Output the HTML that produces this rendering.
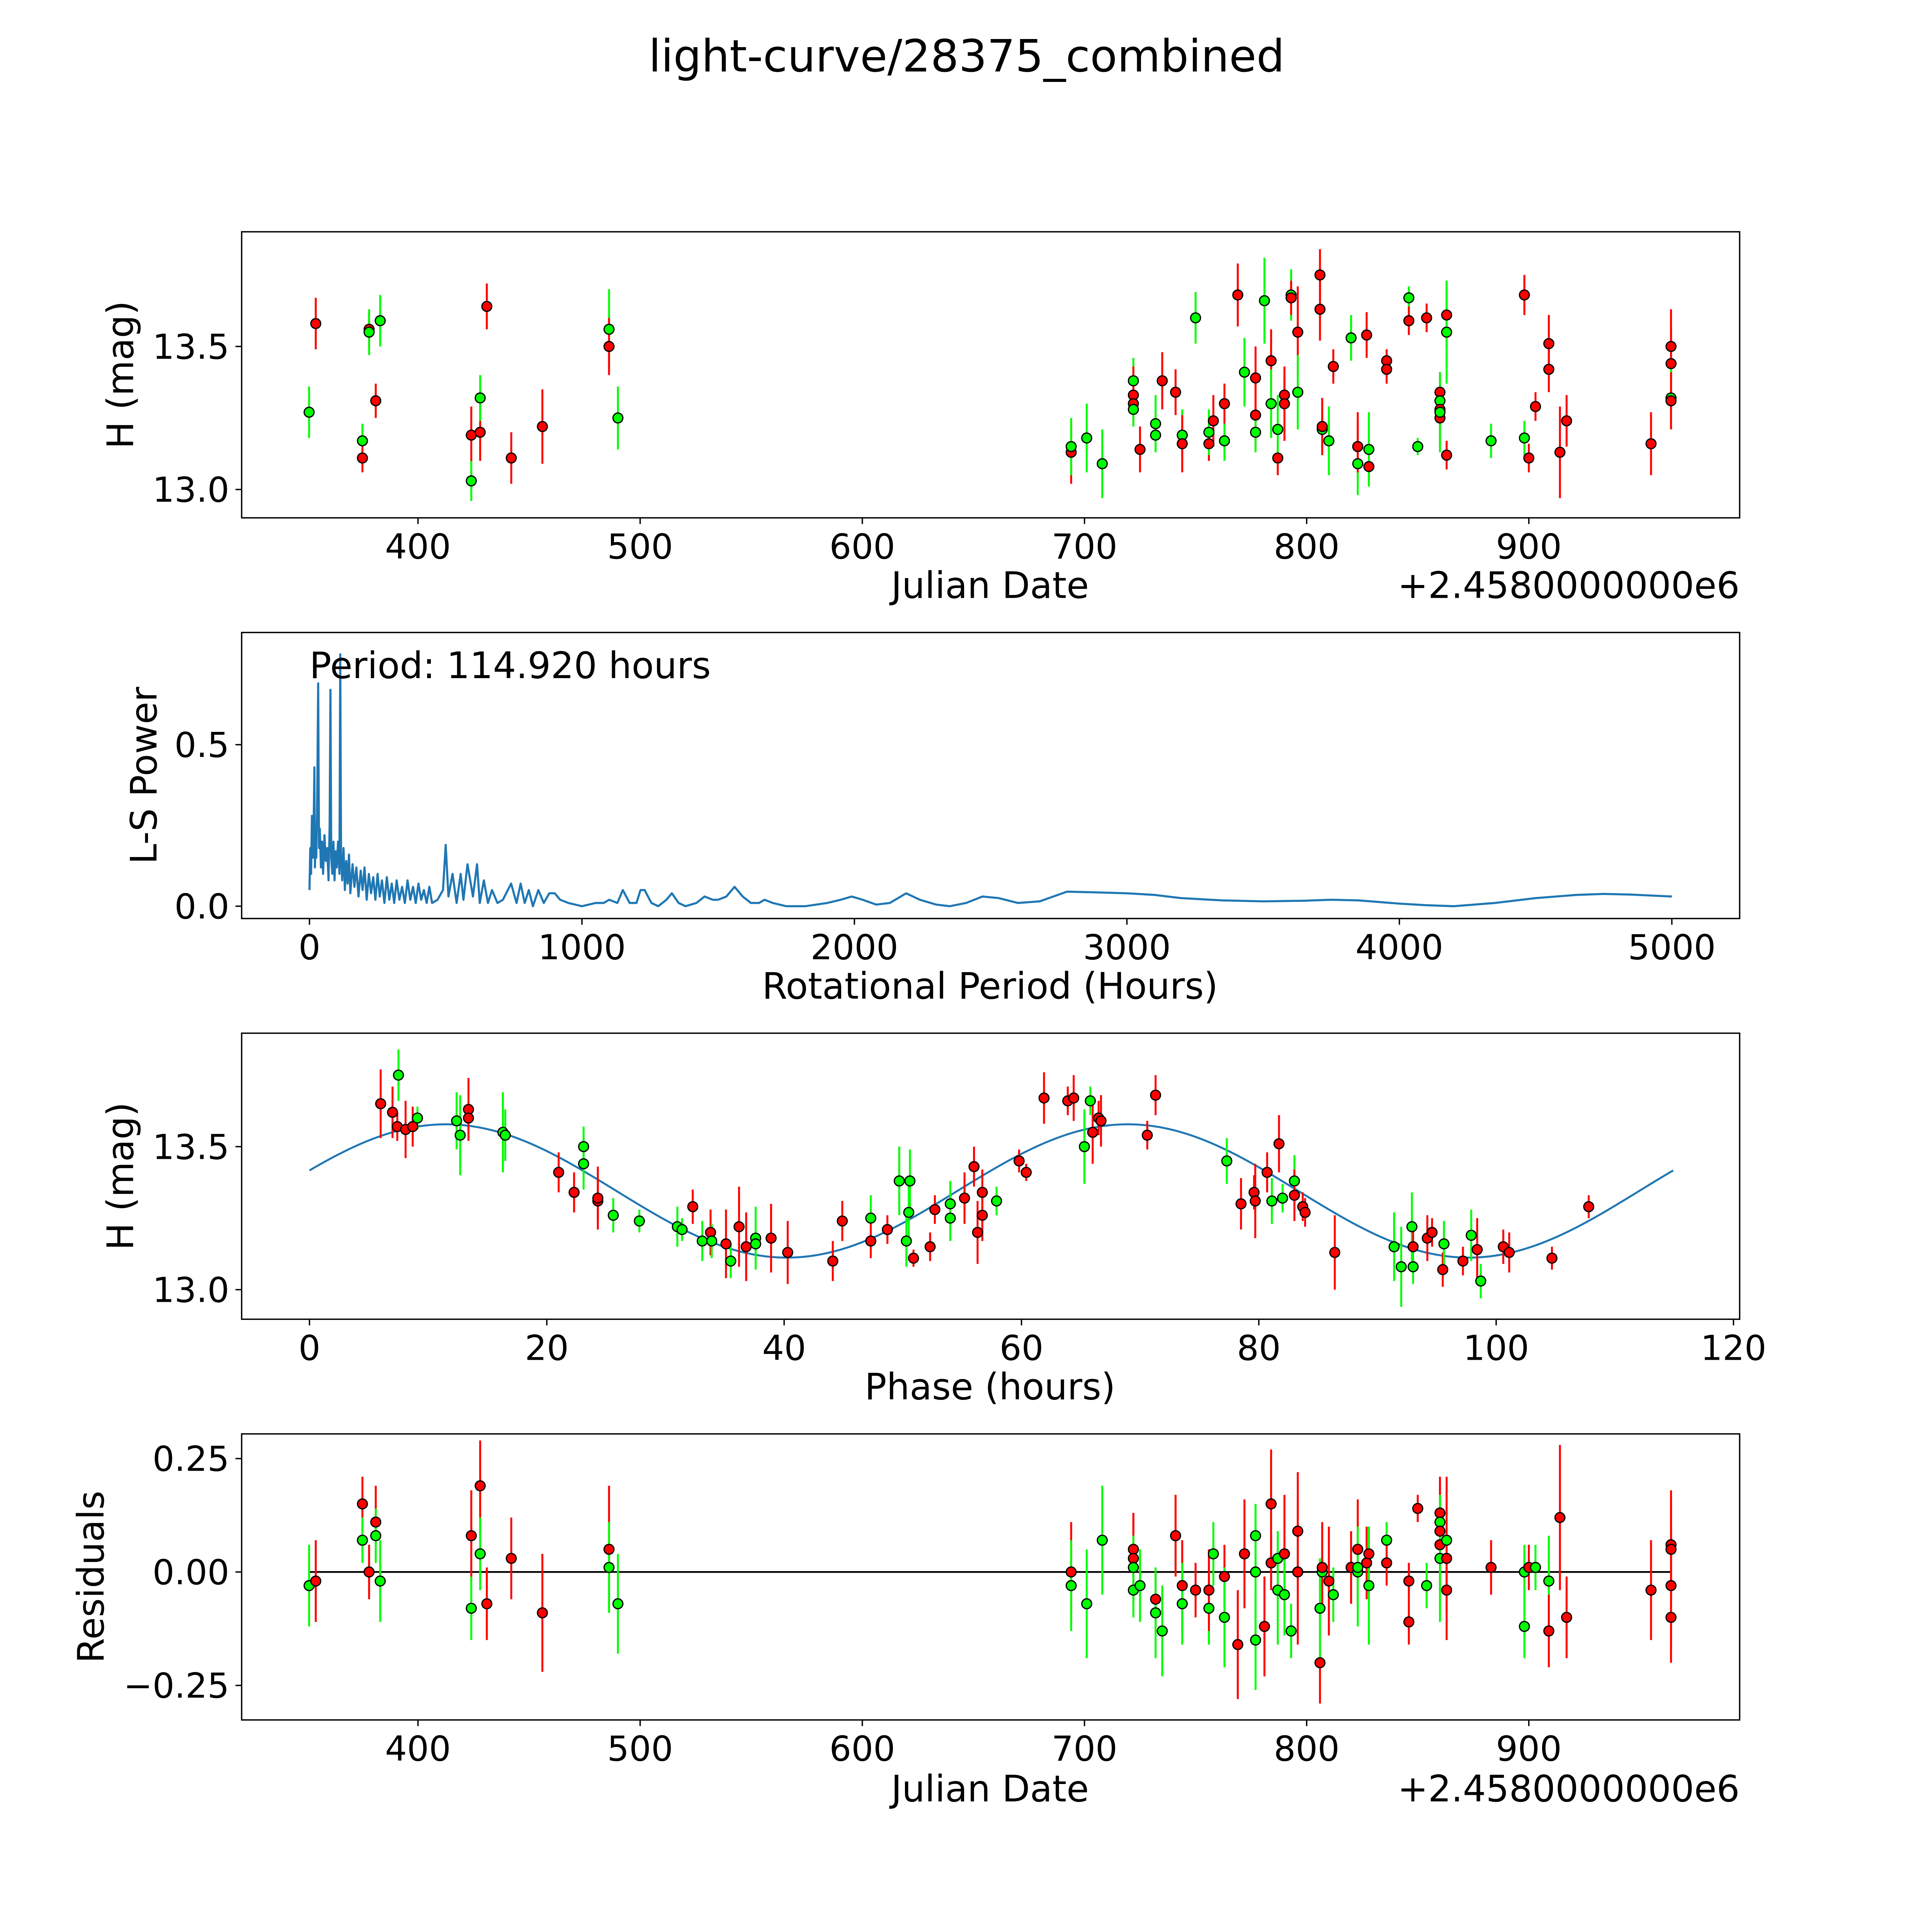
<!DOCTYPE html>
<html><head><meta charset="utf-8"><style>
html,body{margin:0;padding:0;background:#fff;overflow:hidden;width:100vw;height:100vh}
svg{display:block;width:100vw;height:100vh}
text{font-family:"DejaVu Sans","Liberation Sans",sans-serif;fill:#000}
</style></head><body>
<svg id="fig" viewBox="0 0 1567 1567" preserveAspectRatio="none" xmlns="http://www.w3.org/2000/svg">
<rect width="1567" height="1567" fill="#fff"/>
<text x="784" y="58" font-size="36" text-anchor="middle">light-curve/28375_combined</text>
</svg>
<script>
// ---- Panel 1: light curve (date offset, mag, err, color) ----
const lcDates = [351,354,375,375,378,378,381,383,424,424,428,428,431,442,456,486,486,490,
694,694,701,708,722,722,722,722,725,732,732,735,741,744,744,750,756,756,758,763,763,769,772,777,777,777,781,784,784,787,787,790,790,793,793,796,796,806,806,807,807,810,812,820,823,823,823,827,828,828,836,836,846,846,850,854,860,860,860,860,860,863,863,863,883,898,898,900,903,909,909,914,917,955,964,964,964,964];
const lcMags = [13.27,13.58,13.17,13.11,13.56,13.55,13.31,13.59,13.19,13.03,13.20,13.32,13.64,13.11,13.22,13.56,13.50,13.25,
13.13,13.15,13.18,13.09,13.38,13.33,13.30,13.28,13.14,13.19,13.23,13.38,13.34,13.19,13.16,13.60,13.16,13.20,13.24,13.17,13.30,13.68,13.41,13.26,13.20,13.39,13.66,13.45,13.30,13.11,13.21,13.33,13.30,13.68,13.67,13.55,13.34,13.75,13.63,13.21,13.22,13.17,13.43,13.53,13.15,13.09,13.15,13.54,13.08,13.14,13.45,13.42,13.67,13.59,13.15,13.60,13.34,13.31,13.28,13.25,13.27,13.61,13.55,13.12,13.17,13.18,13.68,13.11,13.29,13.51,13.42,13.13,13.24,13.16,13.50,13.44,13.32,13.31];
const lcErrs = [0.09,0.09,0.06,0.05,0.06,0.08,0.06,0.09,0.10,0.07,0.10,0.08,0.08,0.09,0.13,0.14,0.10,0.11,
0.11,0.10,0.12,0.12,0.08,0.10,0.07,0.06,0.08,0.06,0.10,0.10,0.08,0.09,0.10,0.09,0.06,0.08,0.09,0.07,0.07,0.11,0.12,0.12,0.07,0.11,0.15,0.11,0.12,0.06,0.12,0.06,0.13,0.09,0.06,0.16,0.13,0.09,0.11,0.07,0.10,0.12,0.06,0.08,0.12,0.11,0.09,0.08,0.06,0.13,0.04,0.05,0.04,0.05,0.03,0.05,0.07,0.06,0.12,0.10,0.14,0.12,0.18,0.05,0.06,0.06,0.07,0.05,0.05,0.10,0.08,0.16,0.09,0.11,0.13,0.12,0.11,0.10];
const lcColors = "grgrrgrgrgrgrrrgrg" + "rggggrrgrggrrgrgrgrgrrgrgrgrgrgrrgrrgrrgrgrgrgrrrgrrgrgrrgrrgrgrggrrrrrrrrrrgrggrr";

// ---- Panel 2: periodogram ----
const lsPeriods = [0,3,6,9,12,15,18,20,22,25,28,32,35,38,42,46,50,55,60,65,70,74,77,80,84,88,92,96,100,105,110,113,116,120,125,130,135,140,145,150,158,165,172,180,188,195,202,210,218,226,234,242,250,258,266,275,284,293,302,311,320,330,340,350,360,370,380,390,400,410,420,430,440,450,470,490,500,510,525,540,555,565,580,600,615,625,640,655,670,690,710,740,760,775,790,805,820,840,860,880,
900,920,950,1000,1050,1080,1100,1130,1150,1175,1200,1215,1230,1255,1280,1310,1330,1355,1380,1420,1450,1480,1500,1530,1560,1590,1620,1650,1670,1700,1750,1820,1900,1950,1990,2030,2080,2130,2190,2240,2300,2350,2410,2470,2530,2600,2680,2780,2880,3000,3100,3200,3350,3500,3650,3750,3850,4000,4100,4200,4350,4500,4650,4750,4850,5000];
const lsPowers = [0.05,0.18,0.10,0.28,0.15,0.22,0.43,0.12,0.20,0.15,0.30,0.69,0.18,0.24,0.12,0.20,0.10,0.22,0.14,0.18,0.08,0.25,0.67,0.15,0.10,0.20,0.08,0.17,0.12,0.20,0.10,0.78,0.15,0.08,0.18,0.05,0.14,0.07,0.16,0.04,0.13,0.06,0.12,0.03,0.11,0.05,0.12,0.02,0.10,0.04,0.09,0.02,0.10,0.03,0.08,0.01,0.09,0.02,0.07,0.01,0.08,0.02,0.06,0.01,0.08,0.02,0.06,0.01,0.07,0.02,0.05,0.01,0.06,0.01,0.02,0.05,0.19,0.03,0.10,0.01,0.10,0.02,0.13,0.03,0.13,0.01,0.08,0.01,0.05,0.01,0.02,0.07,0.01,0.07,0.01,0.05,0.00,0.05,0.01,0.04,
0.04,0.02,0.01,0.00,0.01,0.01,0.02,0.01,0.05,0.01,0.01,0.05,0.05,0.01,0.00,0.02,0.04,0.01,0.00,0.01,0.03,0.02,0.02,0.03,0.06,0.03,0.01,0.01,0.02,0.01,0.00,0.00,0.01,0.02,0.03,0.02,0.005,0.01,0.04,0.02,0.005,0.00,0.01,0.03,0.025,0.01,0.015,0.045,0.043,0.04,0.035,0.025,0.018,0.015,0.017,0.02,0.018,0.008,0.003,0.00,0.01,0.025,0.035,0.038,0.036,0.03];

// ---- Panel 3: phased (phase h, mag, err, color) ----
const phPhases = [6.0,7.0,7.5,7.4,8.1,8.7,9.1,12.4,12.7,13.4,13.4,16.3,16.5,21.0,22.3,23.1,23.1,24.3,24.3,25.6,27.8,31.0,31.4,32.3,33.1,33.8,33.9,35.1,35.5,36.2,36.8,37.6,37.6,38.9,40.3,44.1,44.9,47.3,47.3,48.7,49.7,50.6,50.3,50.5,50.9,52.3,52.7,54.0,54.0,55.2,56.0,56.3,56.7,56.7,57.9,59.8,60.4,61.9,63.9,64.4,65.3,65.8,66.0,66.5,66.7,70.6,71.3,77.3,78.5,79.6,79.7,80.7,81.1,81.7,82.0,83.0,83.0,83.7,83.9,86.4,91.4,92.0,92.9,93.0,93.0,94.2,94.6,95.5,95.6,97.2,97.9,98.4,98.7,100.6,101.1,104.7,107.8];
const phMags = [13.65,13.62,13.75,13.57,13.56,13.57,13.60,13.59,13.54,13.63,13.60,13.55,13.54,13.41,13.34,13.50,13.44,13.31,13.32,13.26,13.24,13.22,13.21,13.29,13.17,13.20,13.17,13.16,13.10,13.22,13.15,13.18,13.16,13.18,13.13,13.10,13.24,13.25,13.17,13.21,13.38,13.38,13.17,13.27,13.11,13.15,13.28,13.30,13.25,13.32,13.43,13.20,13.34,13.26,13.31,13.45,13.41,13.67,13.66,13.67,13.50,13.66,13.55,13.60,13.59,13.54,13.68,13.45,13.30,13.34,13.31,13.41,13.31,13.51,13.32,13.38,13.33,13.29,13.27,13.13,13.15,13.08,13.22,13.15,13.08,13.18,13.20,13.07,13.16,13.10,13.19,13.14,13.03,13.15,13.13,13.11,13.29];
const phErrs = [0.12,0.09,0.09,0.05,0.10,0.07,0.04,0.10,0.14,0.11,0.05,0.14,0.09,0.07,0.07,0.07,0.09,0.07,0.11,0.06,0.04,0.07,0.04,0.06,0.07,0.08,0.06,0.12,0.06,0.14,0.12,0.11,0.06,0.12,0.11,0.07,0.07,0.08,0.06,0.05,0.12,0.11,0.09,0.10,0.03,0.05,0.05,0.08,0.08,0.09,0.07,0.11,0.08,0.09,0.05,0.04,0.03,0.09,0.05,0.08,0.13,0.05,0.11,0.06,0.09,0.05,0.07,0.08,0.09,0.06,0.13,0.07,0.08,0.10,0.05,0.09,0.09,0.05,0.05,0.13,0.12,0.14,0.12,0.07,0.06,0.08,0.05,0.06,0.08,0.05,0.09,0.11,0.06,0.06,0.07,0.04,0.04];
const phColors = "rrgrrrgggrrggrrggrrggggrgrgrgrrggrrrrgrrggggrrrggrrrrrgrrrrrggrrrrrgrrrrgrggrrrrgggrgrrrgrgrgrrrrrrg";
const fitMean = 13.345, fitAmp = 0.233, fitPeak = 11.5, fitPer = 57.46, fitMax = 114.92;

// ---- Panel 4: residuals (date offset, residual, err, color) ----
const rsDates = [351,354,375,375,378,381,381,383,424,424,428,428,431,442,456,486,486,490,694,694,701,708,722,722,722,722,725,732,732,735,741,741,744,744,750,756,756,758,763,763,769,772,777,777,777,781,784,784,787,787,790,790,793,796,796,806,806,807,807,810,812,820,823,823,823,827,828,828,836,836,846,846,850,854,860,860,860,860,860,863,863,863,883,898,898,900,903,909,909,914,917,955,964,964,964,964];
const rsVals = [-0.03,-0.02,0.15,0.07,0.00,0.11,0.08,-0.02,0.08,-0.08,0.19,0.04,-0.07,0.03,-0.09,0.05,0.01,-0.07,0.00,-0.03,-0.07,0.07,0.05,0.03,0.01,-0.04,-0.03,-0.06,-0.09,-0.13,0.08,0.08,-0.03,-0.07,-0.04,-0.08,-0.04,0.04,-0.01,-0.10,-0.16,0.04,0.08,-0.15,0.00,-0.12,0.15,0.02,-0.04,0.03,0.04,-0.05,-0.13,0.00,0.09,-0.20,-0.08,0.00,0.01,-0.02,-0.05,0.01,0.00,0.05,0.01,0.02,0.04,-0.03,0.07,0.02,-0.02,-0.11,0.14,-0.03,0.13,0.11,0.09,0.06,0.03,0.07,0.03,-0.04,0.01,0.00,-0.12,0.01,0.01,-0.02,-0.13,0.12,-0.10,-0.04,-0.03,0.06,0.05,-0.10];
const rsErrs = lcErrs;
const rsColors = "grrgrrggrgrgrrrrgg" + "rgggrrgggrgggrrgrgrgrgrrgggrrrggrggrrrggrrgrgrgrrggrrrrgrgrrggrrrggrggrrrrrrrrrrgrggrr";
</script>
<script>
const NS = "http://www.w3.org/2000/svg";
const fig = document.getElementById('fig');
function mk(tag, attrs, parent){ const e=document.createElementNS(NS,tag); for(const k in attrs) e.setAttribute(k,attrs[k]); (parent||fig).appendChild(e); return e; }
function txt(s, attrs, parent){ const e=mk('text',attrs,parent); e.textContent=s; return e; }
const COL = {r:'#ff0000', g:'#00ff00'};
const TICK_FS = 28, LAB_FS = 29.5;

function panel(name, L, T, R, B){
  const g = mk('g',{});
  
  
  return {g, L, T, R, B};
}
function frame(p){
  const r = mk('rect',{x:p.L,y:p.T,width:p.R-p.L,height:p.B-p.T,fill:'none',stroke:'#000','stroke-width':1.1}, p.g);
  
  
}
function xticks(p, vals, fx, labels){
  vals.forEach((v,i)=>{
    const x = fx(v);
    mk('line',{x1:x,x2:x,y1:p.B,y2:p.B+5,stroke:'#000','stroke-width':1.1},p.g);
    const t = txt(labels[i],{x:x,y:p.B+33,'font-size':TICK_FS,'text-anchor':'middle'},p.g);
    
    
  });
}
function yticks(p, vals, fy, labels){
  vals.forEach((v,i)=>{
    const y = fy(v);
    mk('line',{x1:p.L-5,x2:p.L,y1:y,y2:y,stroke:'#000','stroke-width':1.1},p.g);
    const t = txt(labels[i],{x:p.L-10,y:y+10,'font-size':TICK_FS,'text-anchor':'end'},p.g);
    
    
  });
}
function ylabel(p, s, x){
  const cy=(p.T+p.B)/2;
  const t = txt(s,{x:x,y:cy,'font-size':LAB_FS,'text-anchor':'middle',transform:`rotate(-90 ${x} ${cy})`},p.g);
  
  
}
function xlabel(p, s, x, y){
  const t = txt(s,{x:x,y:y,'font-size':LAB_FS,'text-anchor':'middle'},p.g);
  
  
}
function points(p, xs, ys, es, cs, fx, fy, scaleErr){
  xs.forEach((xv,i)=>{
    const c = COL[cs[i]]||COL.r;
    const x = fx(xv), y = fy(ys[i]);
    const e = es[i]*scaleErr;
    const l = mk('line',{x1:x,x2:x,y1:y-e,y2:y+e,stroke:c,'stroke-width':1.6},p.g);
    
    
  });
  xs.forEach((xv,i)=>{
    const c = COL[cs[i]]||COL.r;
    const m = mk('circle',{cx:fx(xv),cy:fy(ys[i]),r:4,fill:c,stroke:'#000','stroke-width':1},p.g);
    
    
  });
}

// Panel 1
const p1 = panel('light-curve-panel',196,188,1411,420);
const x1 = d=>339+(d-400)*1.802, y1 = m=>397-(m-13)*232;
points(p1, lcDates, lcMags, lcErrs, lcColors, x1, y1, 232);
frame(p1);
xticks(p1,[400,500,600,700,800,900],x1,['400','500','600','700','800','900']);
yticks(p1,[13.0,13.5],y1,['13.0','13.5']);
ylabel(p1,'H (mag)',108);
xlabel(p1,'Julian Date',803,485);
let off1 = txt('+2.4580000000e6',{x:1411,y:485,'font-size':LAB_FS,'text-anchor':'end'},p1.g);



// Panel 2
const p2 = panel('periodogram-panel',196,513,1411,745);
const x2 = v=>251+v*0.221, y2 = v=>735-v*262;
let d2 = lsPeriods.map((v,i)=>(i?'L':'M')+x2(v).toFixed(2)+' '+y2(lsPowers[i]).toFixed(2)).join(' ');
const ln2 = mk('path',{d:d2,fill:'none',stroke:'#1f77b4','stroke-width':1.7,'stroke-linejoin':'round'},p2.g);


frame(p2);
xticks(p2,[0,1000,2000,3000,4000,5000],x2,['0','1000','2000','3000','4000','5000']);
yticks(p2,[0.0,0.5],y2,['0.0','0.5']);
ylabel(p2,'L-S Power',127);
xlabel(p2,'Rotational Period (Hours)',803,810);
let pt = txt('Period: 114.920 hours',{x:251,y:550,'font-size':LAB_FS},p2.g);



// Panel 3
const p3 = panel('phased-curve-panel',196,838,1411,1070);
const x3 = v=>251+v*9.625, y3 = m=>1046-(m-13)*232;
let d3 = '';
for(let k=0;k<=400;k++){ const ph = fitMax*k/400; const m = fitMean + fitAmp*Math.cos(2*Math.PI*(ph-fitPeak)/fitPer); d3 += (k?'L':'M')+x3(ph).toFixed(2)+' '+y3(m).toFixed(2)+' '; }
const fit = mk('path',{d:d3,fill:'none',stroke:'#1f77b4','stroke-width':1.6},p3.g);


points(p3, phPhases, phMags, phErrs, phColors, x3, y3, 232);
frame(p3);
xticks(p3,[0,20,40,60,80,100,120],x3,['0','20','40','60','80','100','120']);
yticks(p3,[13.0,13.5],y3,['13.0','13.5']);
ylabel(p3,'H (mag)',108);
xlabel(p3,'Phase (hours)',803,1135);

// Panel 4
const p4 = panel('residuals-panel',196,1163,1411,1395);
const y4 = v=>1275-v*368;
const zl = mk('line',{x1:x1(351),x2:x1(964),y1:y4(0),y2:y4(0),stroke:'#000','stroke-width':1.4},p4.g);


points(p4, rsDates, rsVals, rsErrs, rsColors, x1, y4, 368);
frame(p4);
xticks(p4,[400,500,600,700,800,900],x1,['400','500','600','700','800','900']);
yticks(p4,[0.25,0,-0.25],y4,['0.25','0.00','\u22120.25']);
ylabel(p4,'Residuals',84);
xlabel(p4,'Julian Date',803,1461);
let off4 = txt('+2.4580000000e6',{x:1411,y:1461,'font-size':LAB_FS,'text-anchor':'end'},p4.g);


</script>
</body></html>
